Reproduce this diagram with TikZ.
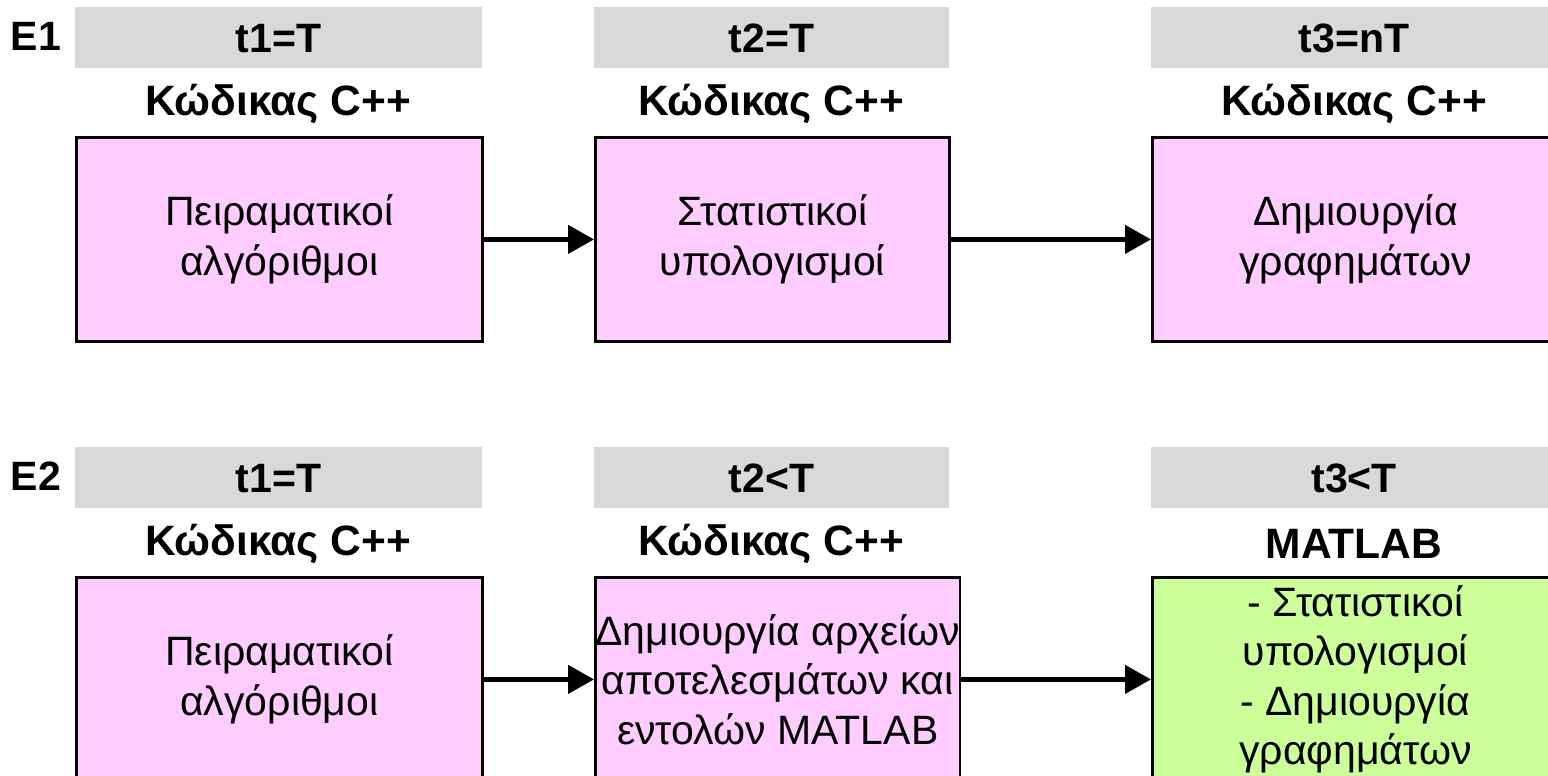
\documentclass[tikz,border=0pt]{standalone}
\usepackage{fontspec}
\setmainfont{Liberation Sans}
\usetikzlibrary{arrows.meta}
\definecolor{bargray}{HTML}{D9D9D9}
\definecolor{boxpink}{HTML}{FFCCFF}
\definecolor{boxgreen}{HTML}{CCFF99}
\tikzset{
  bar/.style={fill=bargray, draw=none, anchor=north west, inner sep=0pt,
    font=\bfseries\fontsize{41}{48}\selectfont, text height=29pt, text depth=0pt},
  rowlabel/.style={font=\bfseries\fontsize{41}{48}\selectfont, inner sep=0pt},
  toolabel/.style={font=\bfseries\fontsize{42.5}{48}\selectfont, inner sep=0pt},
  stepbox/.style={draw=black, line width=2.8pt, fill=boxpink, anchor=north west,
    inner sep=0pt, align=center, font=\fontsize{41}{49.5}\selectfont},
  flow/.style={line width=4.5pt, -{Triangle[length=26pt,width=28pt]}}
}
\begin{document}
\begin{tikzpicture}[x=1pt,y=-1pt]
\useasboundingbox (0,0) rectangle (1548,776);
\clip (0,0) rectangle (1548,776);
% Row 1
\node[rowlabel] (e1) at (36,36) {E1};
\node[bar, minimum width=407pt, minimum height=61pt] (h11) at (75,7) {t1=T};
\node[bar, minimum width=355pt, minimum height=61pt] (h12) at (594,7) {t2=T};
\node[bar, minimum width=406pt, minimum height=61pt] (h13) at (1151,7) {t3=nT};
\node[toolabel] (l11) at (278,104) {Κώδικας C++};
\node[toolabel] (l12) at (771,104) {Κώδικας C++};
\node[toolabel] (l13) at (1354,104) {Κώδικας C++};
\node[stepbox, minimum width=406pt, minimum height=204pt] (b11) at (75,136) {Πειραματικοί\\αλγόριθμοι};
\node[stepbox, minimum width=354pt, minimum height=204pt] (b12) at (594,136) {Στατιστικοί\\υπολογισμοί};
\node[stepbox, minimum width=406pt, minimum height=204pt] (b13) at (1151,136) {Δημιουργία\\γραφημάτων};
\draw[flow] (b11.east) -- (b12.west);
\draw[flow] (b12.east) -- (b13.west);
% Row 2
\node[rowlabel] (e2) at (36,476) {E2};
\node[bar, minimum width=407pt, minimum height=61pt] (h21) at (75,447) {t1=T};
\node[bar, minimum width=355pt, minimum height=61pt] (h22) at (594,447) {t2<T};
\node[bar, minimum width=406pt, minimum height=61pt] (h23) at (1151,447) {t3<T};
\node[toolabel] (l21) at (278,544) {Κώδικας C++};
\node[toolabel] (l22) at (771,544) {Κώδικας C++};
\node[toolabel] (l23) at (1354,544) {MATLAB};
\node[stepbox, minimum width=406pt, minimum height=204pt] (b21) at (75,576) {Πειραματικοί\\αλγόριθμοι};
\node[stepbox, minimum width=354pt, minimum height=204pt] (b22) at (594,576) {Δημιουργία αρχείων\\αποτελεσμάτων και\\εντολών MATLAB};
\node[stepbox, fill=boxgreen, minimum width=406pt, minimum height=204pt] (b23) at (1151,576) {- Στατιστικοί\\υπολογισμοί\\- Δημιουργία\\γραφημάτων};
\draw[flow] (b21.east) -- (b22.west);
\draw[flow] (b22.east) -- (b23.west);
\end{tikzpicture}
\end{document}
